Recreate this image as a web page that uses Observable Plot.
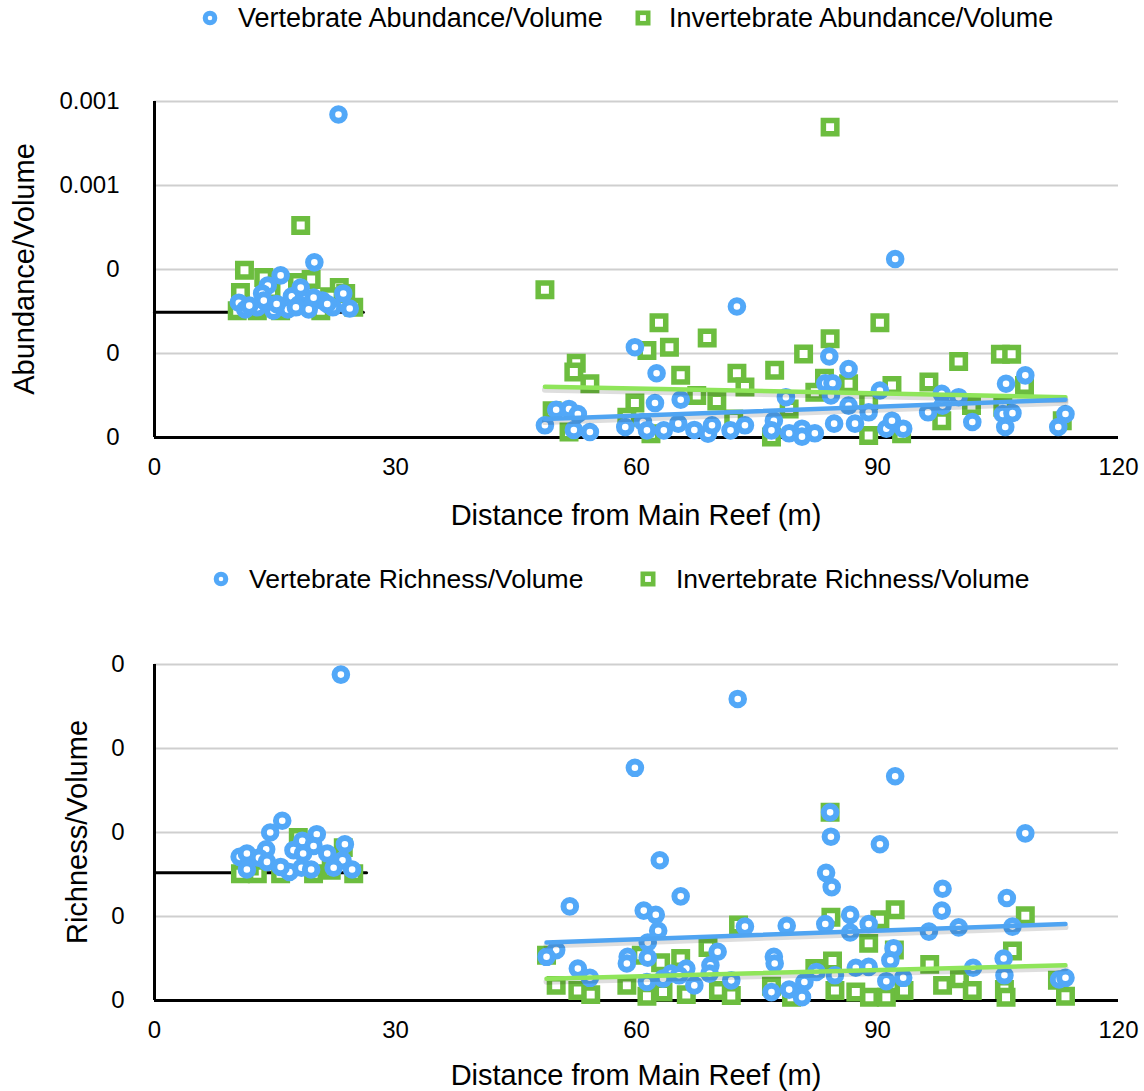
<!DOCTYPE html>
<html>
<head>
<meta charset="utf-8">
<script src="https://cdn.jsdelivr.net/npm/d3@7"></script>
<script src="https://cdn.jsdelivr.net/npm/@observablehq/plot@0.6"></script>
<style>
  body { margin: 0; background: #fff; }
  #wrap { position: relative; width: 1144px; height: 1091px; font-family: "Liberation Sans", Arial, Helvetica, sans-serif; color: #000; overflow: hidden; }
  .abs { position: absolute; white-space: nowrap; }
  .leg { font-size: 27px; line-height: 36px; }
  .title { font-size: 29px; line-height: 34px; }
  .plotbox { position: absolute; left: 0; }
</style>
</head>
<body>
<div id="wrap"></div>
<script>
// ---------- DATA ----------
const xTicks = [0, 30, 60, 90, 120];
const abundanceTicks = [0, 0.0002, 0.0004, 0.0006, 0.0008];
const richnessTicks = [0, 0.0001, 0.0002, 0.0003, 0.0004];

// Top panel: Abundance/Volume  [distance (m), value]
const vertebrateAbundance = [
  [22.9,7.69e-4],[19.9,4.17e-4],[15.7,3.86e-4],[14.1,3.62e-4],[13.4,3.43e-4],[10.5,3.21e-4],[11.3,3.05e-4],[12.8,3.10e-4],
  [17.1,3.36e-4],[18.2,3.57e-4],[18.0,3.17e-4],[16.6,3.05e-4],[19.2,3.05e-4],[20.9,3.26e-4],[23.5,3.43e-4],[22.2,3.10e-4],
  [24.3,3.07e-4],[14.8,3.02e-4],[13.6,3.26e-4],[19.8,3.33e-4],[11.8,3.14e-4],[15.2,3.18e-4],[21.5,3.18e-4],[17.6,3.10e-4],
  [48.6,0.29e-4],[50.0,0.66e-4],[51.6,0.68e-4],[52.7,0.56e-4],[52.2,0.18e-4],[54.2,0.13e-4],[59.8,2.15e-4],[58.6,0.25e-4],
  [60.8,0.37e-4],[62.5,1.53e-4],[62.3,0.82e-4],[61.3,0.17e-4],[63.4,0.17e-4],[65.5,0.90e-4],[65.2,0.33e-4],[67.2,0.18e-4],
  [68.9,0.09e-4],[69.4,0.29e-4],[71.7,0.17e-4],[72.5,3.12e-4],[73.5,0.29e-4],[77.1,0.40e-4],[76.8,0.17e-4],[78.6,0.96e-4],
  [79.0,0.10e-4],[80.6,0.21e-4],[80.6,0.02e-4],[82.2,0.10e-4],[83.5,1.29e-4],[84.4,1.29e-4],[84.0,1.93e-4],[84.2,1.00e-4],
  [84.6,0.33e-4],[86.4,1.63e-4],[86.4,0.76e-4],[87.2,0.33e-4],[88.9,0.60e-4],[92.2,4.25e-4],[90.3,1.12e-4],[91.1,0.21e-4],
  [91.8,0.40e-4],[93.2,0.21e-4],[96.3,0.60e-4],[98.0,1.04e-4],[98.1,0.76e-4],[100.1,0.96e-4],[101.8,0.37e-4],[106.0,1.28e-4],
  [105.6,0.56e-4],[106.8,0.58e-4],[105.9,0.25e-4],[108.4,1.48e-4],[112.5,0.25e-4],[113.4,0.56e-4]
];
const invertebrateAbundance = [
  [18.2,5.05e-4],[11.2,3.98e-4],[13.6,3.81e-4],[19.5,3.76e-4],[23.0,3.57e-4],[17.8,3.69e-4],[10.7,3.45e-4],[10.3,3.02e-4],
  [24.8,3.10e-4],[20.7,3.02e-4],[15.7,3.02e-4],[12.8,3.02e-4],[23.8,3.43e-4],[14.5,3.50e-4],[21.8,3.35e-4],
  [48.6,3.52e-4],[52.5,1.77e-4],[52.2,1.56e-4],[54.2,1.28e-4],[62.8,2.73e-4],[64.1,2.15e-4],[61.3,2.07e-4],[68.8,2.37e-4],
  [65.5,1.48e-4],[67.5,1.00e-4],[70.0,0.87e-4],[59.8,0.82e-4],[72.5,1.53e-4],[73.5,1.20e-4],[77.2,1.60e-4],[80.8,1.99e-4],
  [84.1,7.39e-4],[84.1,2.35e-4],[83.4,1.41e-4],[86.4,1.28e-4],[90.3,2.73e-4],[91.8,1.24e-4],[96.4,1.32e-4],[100.1,1.81e-4],
  [105.3,1.98e-4],[106.7,1.98e-4],[108.3,1.24e-4],[98.0,0.40e-4],[88.9,0.05e-4],[93.0,0.09e-4],[76.8,0.01e-4],[58.8,0.48e-4],
  [51.6,0.13e-4],[113.0,0.40e-4],[72.1,0.44e-4],[61.8,0.09e-4],[82.2,1.08e-4],[88.9,0.88e-4],[101.7,0.76e-4],[49.5,0.64e-4],
  [105.6,0.72e-4],[79.0,0.68e-4]
];
const vertebrateAbundanceTrend = [[48.6, 0.44e-4], [113.4, 0.90e-4]];
const invertebrateAbundanceTrend = [[48.6, 1.21e-4], [113.4, 0.96e-4]];
const nearReefAbundanceLine = [[0, 2.98e-4], [26.0, 2.98e-4]];

// Bottom panel: Richness/Volume  [distance (m), value]
const vertebrateRichness = [
  [23.2,3.88e-4],[15.9,2.14e-4],[14.4,2.00e-4],[20.2,1.98e-4],[23.7,1.86e-4],[13.9,1.80e-4],[18.4,1.90e-4],[19.8,1.84e-4],
  [17.3,1.79e-4],[21.5,1.75e-4],[10.6,1.71e-4],[11.5,1.75e-4],[13.0,1.70e-4],[23.4,1.67e-4],[11.5,1.56e-4],[14.0,1.65e-4],
  [16.8,1.53e-4],[18.3,1.58e-4],[19.5,1.56e-4],[22.3,1.58e-4],[24.6,1.56e-4],[15.7,1.59e-4],[18.5,1.75e-4],
  [72.6,3.59e-4],[59.8,2.77e-4],[92.2,2.67e-4],[84.1,2.24e-4],[84.2,1.95e-4],[108.4,1.99e-4],[90.3,1.86e-4],[62.9,1.67e-4],
  [83.6,1.52e-4],[84.3,1.35e-4],[98.1,1.33e-4],[106.1,1.22e-4],[65.5,1.24e-4],[51.7,1.12e-4],[60.9,1.07e-4],[62.4,1.02e-4],
  [98.0,1.07e-4],[86.6,1.02e-4],[62.7,0.83e-4],[61.4,0.69e-4],[73.5,0.88e-4],[78.7,0.89e-4],[83.5,0.91e-4],[88.9,0.91e-4],
  [86.6,0.81e-4],[96.4,0.82e-4],[100.1,0.87e-4],[106.8,0.88e-4],[50.0,0.60e-4],[48.8,0.52e-4],[58.9,0.52e-4],[58.8,0.44e-4],
  [61.4,0.51e-4],[70.1,0.58e-4],[77.1,0.52e-4],[77.2,0.44e-4],[92.0,0.62e-4],[91.6,0.48e-4],[52.7,0.38e-4],[54.2,0.27e-4],
  [66.2,0.38e-4],[69.2,0.42e-4],[69.1,0.32e-4],[64.3,0.32e-4],[63.3,0.26e-4],[65.3,0.30e-4],[67.2,0.18e-4],[61.3,0.22e-4],
  [71.8,0.24e-4],[76.8,0.10e-4],[79.0,0.13e-4],[80.9,0.22e-4],[80.6,0.04e-4],[82.4,0.34e-4],[84.7,0.30e-4],[87.3,0.39e-4],
  [88.9,0.40e-4],[91.1,0.23e-4],[93.2,0.27e-4],[101.9,0.39e-4],[105.7,0.50e-4],[105.8,0.30e-4],[112.6,0.25e-4],[113.4,0.27e-4]
];
const invertebrateRichness = [
  [10.7,1.51e-4],[12.8,1.51e-4],[15.7,1.51e-4],[19.8,1.51e-4],[24.8,1.51e-4],[17.9,1.94e-4],[23.5,1.82e-4],[18.9,1.85e-4],
  [22.0,1.55e-4],[11.8,1.60e-4],
  [84.1,2.24e-4],[84.2,0.99e-4],[92.2,1.08e-4],[90.3,0.96e-4],[88.9,0.68e-4],[108.4,1.01e-4],[106.8,0.59e-4],[72.7,0.90e-4],
  [68.9,0.63e-4],[92.1,0.60e-4],[48.8,0.54e-4],[60.6,0.54e-4],[65.5,0.50e-4],[84.4,0.47e-4],[96.5,0.43e-4],[82.2,0.38e-4],
  [50.0,0.18e-4],[52.7,0.12e-4],[54.3,0.07e-4],[58.8,0.18e-4],[61.3,0.05e-4],[63.3,0.10e-4],[66.2,0.07e-4],[70.2,0.12e-4],
  [71.8,0.06e-4],[76.8,0.17e-4],[79.3,0.04e-4],[84.7,0.12e-4],[87.3,0.10e-4],[89.0,0.04e-4],[91.1,0.04e-4],[93.3,0.12e-4],
  [98.1,0.18e-4],[100.2,0.26e-4],[101.8,0.12e-4],[105.8,0.13e-4],[112.4,0.24e-4],[113.4,0.05e-4],[63.0,0.45e-4],[106.0,0.04e-4]
];
const vertebrateRichnessTrend = [[48.8, 0.69e-4], [113.4, 0.91e-4]];
const invertebrateRichnessTrend = [[48.8, 0.26e-4], [113.4, 0.42e-4]];
const nearReefRichnessLine = [[0, 1.52e-4], [26.4, 1.52e-4]];

// ---------- STYLE ----------
const BLUE = "#52a8f8";
const GREEN = "#6cbd3f";
const BLUE_TREND = "#4fa4f2";
const GREEN_TREND = "#8fe55a";
const FONT = "'Liberation Sans', Arial, Helvetica, sans-serif";

const fmt = d => String(+d.toFixed(3));
const toXY = arr => arr.map(([x, y]) => ({x, y}));

function panel({vert, invert, vTrend, iTrend, nearLine, yTicks, height, marginTop, marginBottom, tickPad}) {
  const trendMarks = (data, color) => [
    Plot.line(toXY(data), {x: "x", y: "y", stroke: "#000", strokeOpacity: 0.13, strokeWidth: 6, dy: 3}),
    Plot.line(toXY(data), {x: "x", y: "y", stroke: color, strokeWidth: 4.5})
  ];
  return Plot.plot({
    width: 1144,
    height,
    marginLeft: 154,
    marginRight: 26,
    marginTop,
    marginBottom,
    style: {fontFamily: FONT, fontSize: "24px", color: "#000", background: "transparent", overflow: "visible"},
    x: {domain: [0, 120], label: null},
    y: {domain: [yTicks[0], yTicks[yTicks.length - 1]], label: null},
    marks: [
      Plot.gridY(yTicks, {stroke: "#cfcfcf", strokeOpacity: 1, strokeWidth: 2}),
      Plot.axisX(xTicks, {tickSize: 0, tickPadding: 20, label: null, fill: "#000"}),
      Plot.axisY(yTicks, {tickSize: 0, tickPadding: tickPad, tickFormat: fmt, label: null, fill: "#000"}),
      Plot.ruleX([0], {stroke: "#000", strokeWidth: 3}),
      Plot.ruleY([0], {stroke: "#000", strokeWidth: 3}),
      Plot.line(toXY(nearLine), {x: "x", y: "y", stroke: "#000", strokeWidth: 3}),
      Plot.dot(toXY(invert), {x: "x", y: "y", symbol: "square", r: 7.6, stroke: GREEN, strokeWidth: 5.5, fill: "#fff"}),
      Plot.dot(toXY(vert), {x: "x", y: "y", symbol: "circle", r: 6.3, stroke: BLUE, strokeWidth: 6, fill: "#fff"}),
      ...trendMarks(iTrend, GREEN_TREND),
      ...trendMarks(vTrend, BLUE_TREND)
    ]
  });
}

const wrap = document.getElementById("wrap");

function addLegend(y, items) {
  for (const it of items) {
    const m = document.createElement("div");
    m.className = "abs";
    m.style.left = (it.mx - 12) + "px";
    m.style.top = (y - 12) + "px";
    m.innerHTML = it.shape === "circle"
      ? `<svg width="24" height="24"><circle cx="12" cy="12" r="4.8" fill="#fff" stroke="${BLUE}" stroke-width="5"/></svg>`
      : `<svg width="24" height="24"><rect x="6.8" y="6.8" width="10.4" height="10.4" fill="#fff" stroke="${GREEN}" stroke-width="4.6"/></svg>`;
    wrap.appendChild(m);
    const t = document.createElement("div");
    t.className = "abs leg";
    t.style.left = it.tx + "px";
    t.style.top = (y - 18) + "px";
    t.style.fontSize = it.fs + "px";
    t.textContent = it.label;
    wrap.appendChild(t);
  }
}

function addTitle(text, cx, cy, rotate) {
  const d = document.createElement("div");
  d.className = "abs title";
  d.style.left = cx + "px";
  d.style.top = cy + "px";
  d.style.transform = rotate ? "translate(-50%,-50%) rotate(-90deg)" : "translate(-50%,-50%)";
  d.textContent = text;
  wrap.appendChild(d);
}

// Top panel
addLegend(18, [
  {shape: "circle", mx: 210, tx: 238, fs: 27, label: "Vertebrate Abundance/Volume"},
  {shape: "square", mx: 643, tx: 669, fs: 27, label: "Invertebrate Abundance/Volume"}
]);
const p1 = panel({
  vert: vertebrateAbundance, invert: invertebrateAbundance,
  vTrend: vertebrateAbundanceTrend, iTrend: invertebrateAbundanceTrend,
  nearLine: nearReefAbundanceLine, yTicks: abundanceTicks,
  height: 520, marginTop: 61, marginBottom: 123, tickPad: 35
});
const b1 = document.createElement("div");
b1.className = "plotbox"; b1.style.top = "40px";
b1.appendChild(p1); wrap.appendChild(b1);
addTitle("Distance from Main Reef (m)", 636, 515, false);
addTitle("Abundance/Volume", 24, 269, true);

// Bottom panel
addLegend(579, [
  {shape: "circle", mx: 221, tx: 249, fs: 26.5, label: "Vertebrate Richness/Volume"},
  {shape: "square", mx: 648, tx: 676, fs: 26.5, label: "Invertebrate Richness/Volume"}
]);
const p2 = panel({
  vert: vertebrateRichness, invert: invertebrateRichness,
  vTrend: vertebrateRichnessTrend, iTrend: invertebrateRichnessTrend,
  nearLine: nearReefRichnessLine, yTicks: richnessTicks,
  height: 491, marginTop: 64, marginBottom: 91, tickPad: 30
});
const b2 = document.createElement("div");
b2.className = "plotbox"; b2.style.top = "600px";
b2.appendChild(p2); wrap.appendChild(b2);
addTitle("Distance from Main Reef (m)", 636, 1075, false);
addTitle("Richness/Volume", 77, 832, true);
</script>
</body>
</html>
